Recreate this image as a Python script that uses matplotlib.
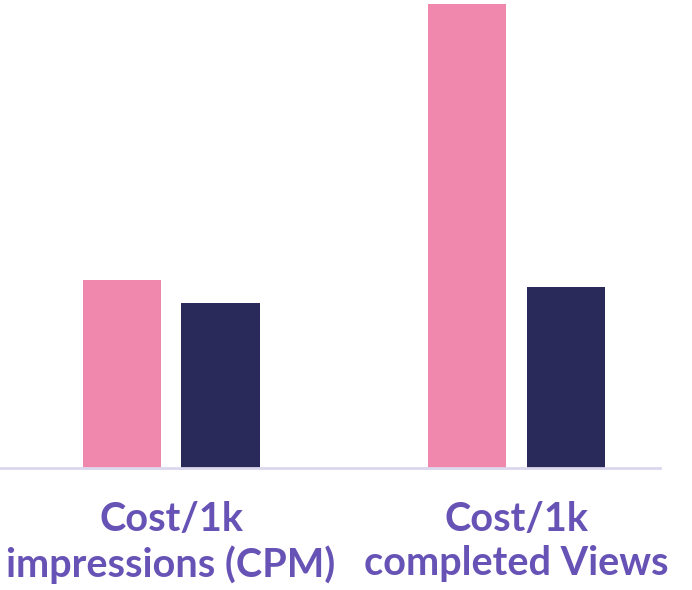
import numpy as np
import matplotlib.pyplot as plt

# data (relative heights, no axis shown)
categories = ["Cost/1k\nimpressions (CPM)", "Cost/1k\ncompleted Views"]
series_a = [188, 464]   # pink
series_b = [165, 181]   # navy

PINK = "#f088ad"
NAVY = "#292a5a"
LABEL = "#6753b5"

fig = plt.figure(figsize=(6.92, 5.90), dpi=100)
ax = fig.add_axes([0, 122 / 590, 660 / 692, 465 / 590])

x = np.arange(len(categories))
w = 0.226
off = 0.143
ax.bar(x - off, series_a, width=w, color=PINK)
ax.bar(x + off, series_b, width=w, color=NAVY)

ax.set_xlim(-0.495, 1.415)
ax.set_ylim(0, 465)
for s in ["top", "right", "left"]:
    ax.spines[s].set_visible(False)
ax.spines["bottom"].set_color("#dcd7ee")
ax.spines["bottom"].set_linewidth(2)
ax.set_yticks([])
ax.set_xticks(x)
ax.set_xticklabels(categories, fontsize=28.5, fontweight="bold", color=LABEL,
                   family="Lato", linespacing=1.22)
ax.tick_params(axis="x", length=0, pad=24)

fig.savefig("out.png", dpi=100)
